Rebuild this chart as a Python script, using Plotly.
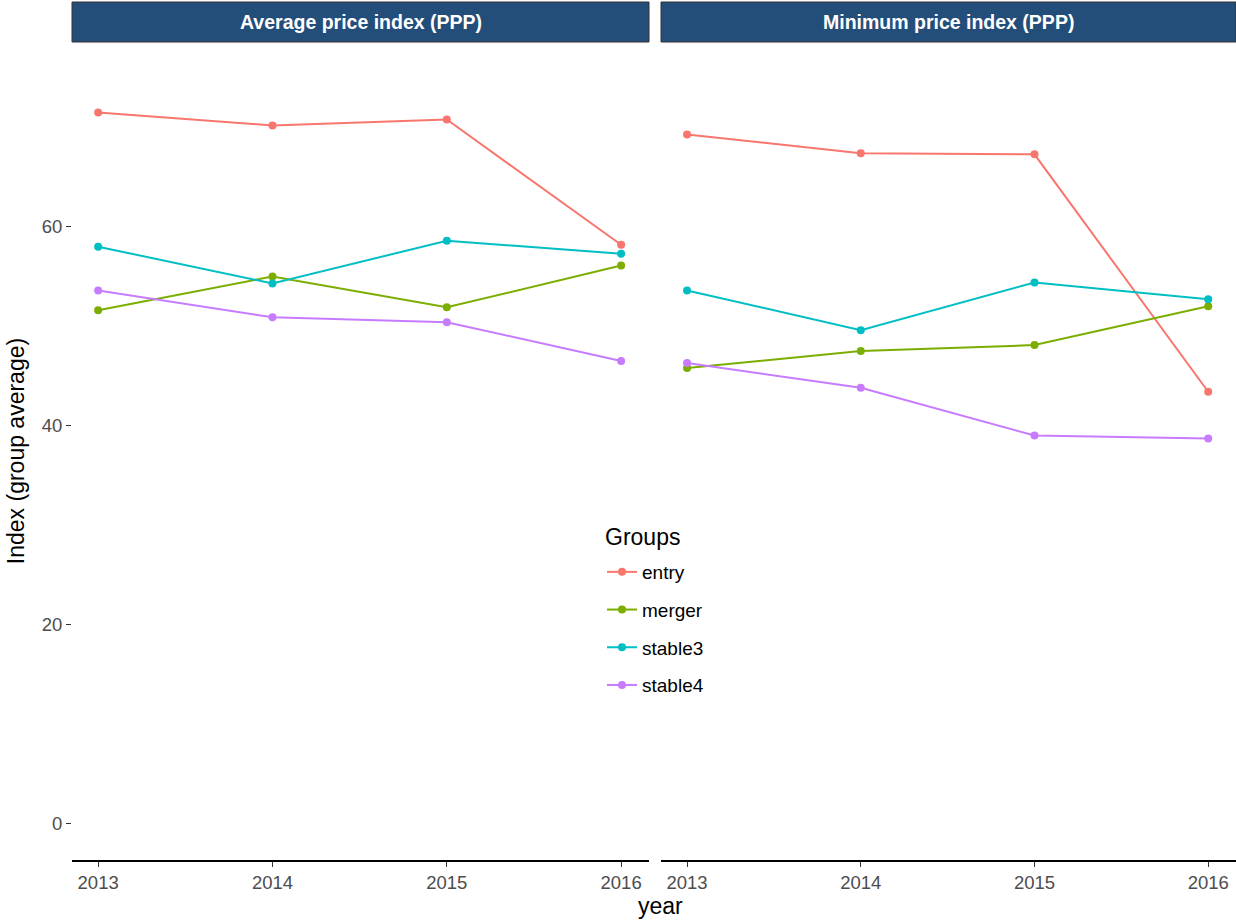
import plotly.graph_objects as go

years = [2013, 2014, 2015, 2016]
groups = ["entry", "merger", "stable3", "stable4"]
colors = ["#F8766D", "#7CAE00", "#00BFC4", "#C77CFF"]
panels = ["Average price index (PPP)", "Minimum price index (PPP)"]

avg_entry = [71.5, 70.2, 70.8, 58.2]
avg_merger = [51.6, 55.0, 51.9, 56.1]
avg_stable3 = [58.0, 54.3, 58.6, 57.3]
avg_stable4 = [53.6, 50.9, 50.4, 46.5]

min_entry = [69.3, 67.4, 67.3, 43.4]
min_merger = [45.8, 47.5, 48.1, 52.0]
min_stable3 = [53.6, 49.6, 54.4, 52.7]
min_stable4 = [46.3, 43.8, 39.0, 38.7]

avg_vals = [avg_entry, avg_merger, avg_stable3, avg_stable4]
min_vals = [min_entry, min_merger, min_stable3, min_stable4]

y_ticks = [0, 20, 40, 60]
x_ticks = [2013, 2014, 2015, 2016]

fig = go.Figure()
for pi, (vals, xa, ya) in enumerate([(avg_vals, "x", "y"), (min_vals, "x2", "y2")]):
    for gi, g in enumerate(groups):
        fig.add_trace(go.Scatter(
            x=years, y=vals[gi], mode="lines+markers", name=g,
            line=dict(color=colors[gi], width=2),
            marker=dict(color=colors[gi], size=8),
            xaxis=xa, yaxis=ya, legendgroup=g, showlegend=(pi == 0),
        ))

W, H = 1236, 921
ml, mr, mt, mb = 72, 0, 2, 61
pw = W - ml - mr
ph = H - mt - mb
strip_h = 40
ytop = 1 - strip_h / ph
d1 = [0, 577 / pw]
d2 = [589 / pw, 1]


def py(pix):
    """Convert a pixel row (from top of the image) to paper y."""
    return (H - mb - pix) / ph


def px(pix):
    return (pix - ml) / pw


xr = [2012.85, 2016.16]
yr = [-3.72, 78.6]
tickfont = dict(family="Liberation Sans, Arial", size=18.5, color="#4D4D4D")

common_x = dict(range=xr, tickvals=x_ticks, ticktext=[str(v) for v in x_ticks],
                showgrid=False, zeroline=False, showline=True, linecolor="black",
                linewidth=1.5, ticks="outside", ticklen=5, tickcolor="#333333",
                tickwidth=1.2, tickfont=tickfont)
common_y = dict(range=yr, tickvals=y_ticks, showgrid=False, zeroline=False,
                showline=False, domain=[0, ytop])

fig.update_layout(
    width=W, height=H,
    margin=dict(l=ml, r=mr, t=mt, b=mb),
    plot_bgcolor="white", paper_bgcolor="white",
    font=dict(family="Liberation Sans, Arial", color="black"),
    xaxis=dict(domain=d1, anchor="y", **common_x),
    xaxis2=dict(domain=d2, anchor="y2", **common_x),
    yaxis=dict(anchor="x", ticks="outside", ticklen=5, tickcolor="#333333",
               tickwidth=1.2, tickfont=tickfont,
               title=dict(text="Index (group average)", font=dict(size=23), standoff=10),
               **common_y),
    yaxis2=dict(anchor="x2", showticklabels=False, ticks="", **common_y),
    legend=dict(
        x=px(602), xanchor="left", y=py(553), yanchor="top",
        font=dict(size=19), bgcolor="rgba(0,0,0,0)",
        tracegroupgap=10, traceorder="grouped", itemwidth=30,
    ),
)

# legend title
fig.add_annotation(xref="paper", yref="paper", x=px(603), y=py(537),
                   text="Groups", showarrow=False, font=dict(size=23, color="black"),
                   xanchor="left", yanchor="middle")

for i, (d, label) in enumerate(zip([d1, d2], panels)):
    fig.add_shape(type="rect", xref="paper", yref="paper",
                  x0=d[0], x1=d[1], y0=ytop, y1=1,
                  fillcolor="#244E7A", line=dict(color="#333333", width=1))
    fig.add_annotation(xref="paper", yref="paper", x=(d[0] + d[1]) / 2,
                       y=(1 + ytop) / 2, text="<b>" + label + "</b>",
                       showarrow=False, font=dict(size=19.5, color="white"),
                       xanchor="center", yanchor="middle")

fig.add_annotation(xref="paper", yref="paper", x=px(660), y=py(906),
                   text="year", showarrow=False, font=dict(size=23, color="black"),
                   xanchor="center", yanchor="middle")

fig.write_html("out.html", config={"displayModeBar": False},
               post_script="document.body.style.margin='0px';")
